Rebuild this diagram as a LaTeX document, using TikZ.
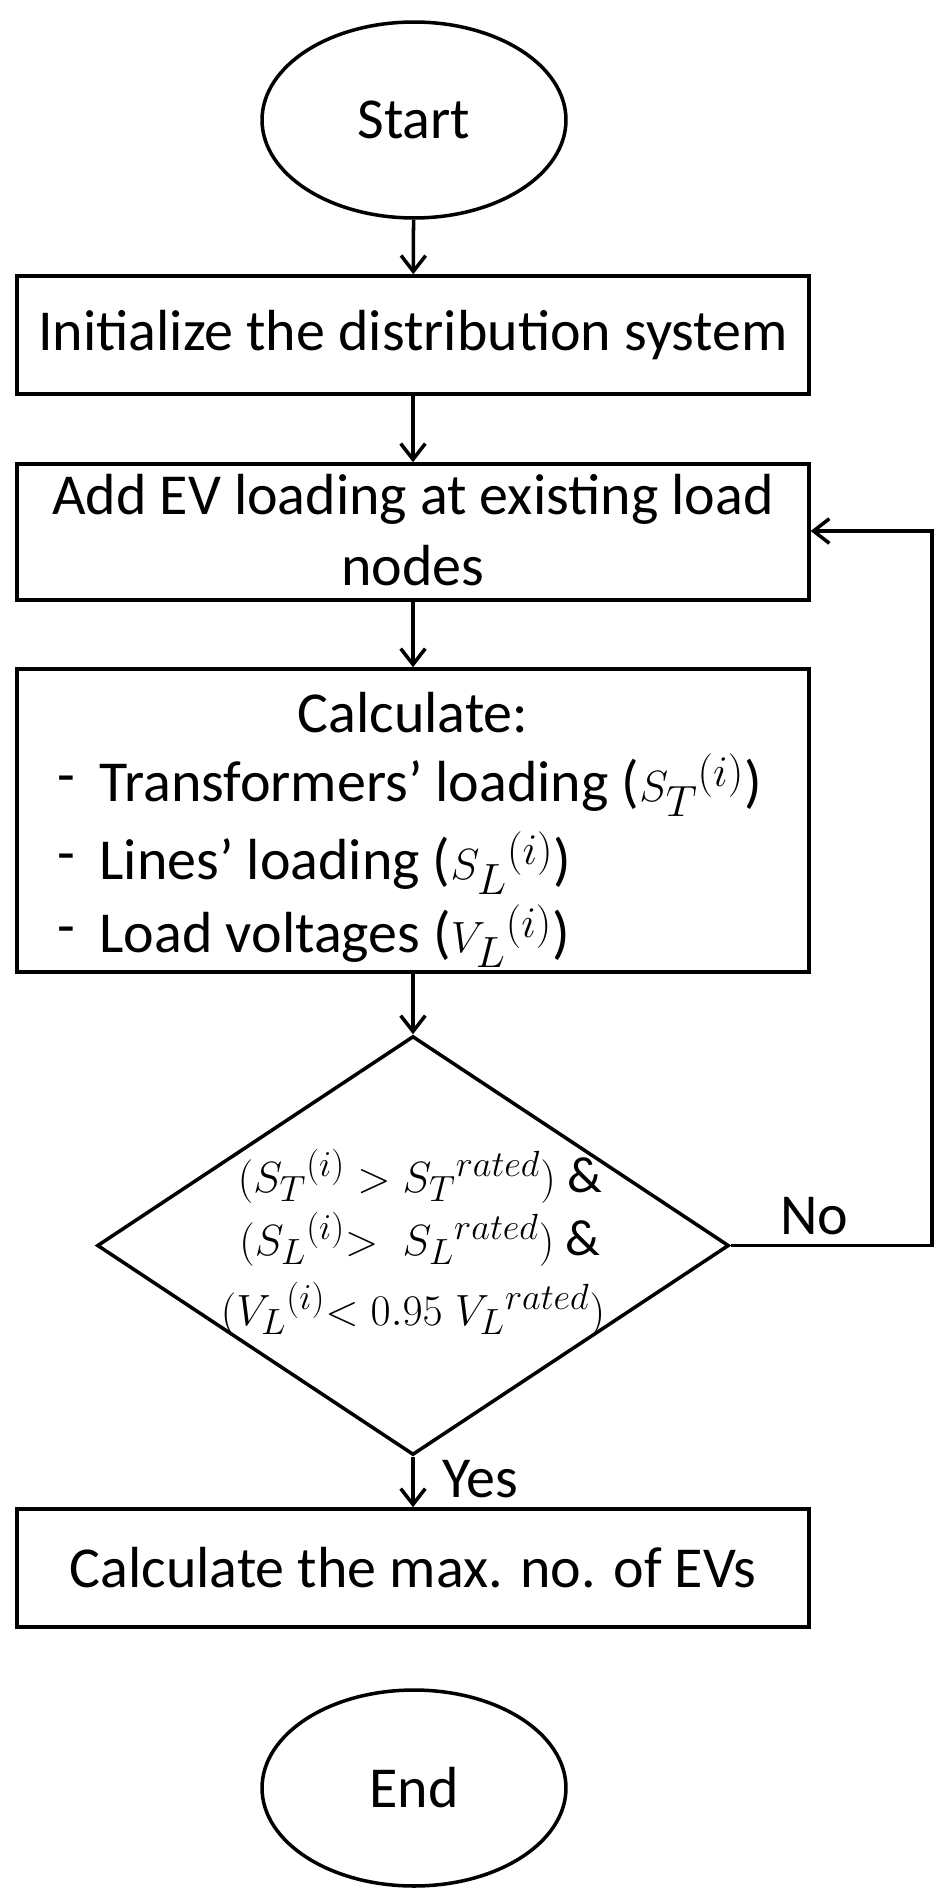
\documentclass[tikz,border=0pt]{standalone}
\usepackage{fontspec}
\setmainfont{Carlito}
\usetikzlibrary{arrows.meta,shapes.geometric}
\begin{document}
\begin{tikzpicture}[x=0.02cm,y=-0.02cm,
  line width=2pt,
  every node/.style={font=\fontsize{33}{40}\selectfont},
  box/.style={draw,minimum width=15.84cm,inner sep=0pt},
  term/.style={draw,ellipse,minimum width=6.08cm,minimum height=3.92cm},
  arr/.style={-{Straight Barb[length=9pt,width=14pt]}}]
\useasboundingbox (0,0) rectangle (947,1902);
\node[term] (start) at (414,120) {Start};
\node[box,minimum height=2.36cm] (init) at (413,335) {Initialize the distribution system};
\node[box,minimum height=2.72cm] (add) at (413,532) {};
\node at (413,499) {Add EV loading at existing load};
\node at (413,566) {nodes};
\node[box,minimum height=6.06cm] (calc) at (413,820.5) {};
\node at (413,713) {Calculate:};
\node[anchor=west] at (50,785) {-};
\node[anchor=west] at (50,863) {-};
\node[anchor=west] at (50,936) {-};
\node[anchor=west] at (92,785) {Transformers’ loading ($S_T{}^{(i)}$)};
\node[anchor=west] at (92,863) {Lines’ loading ($S_L{}^{(i)}$)};
\node[anchor=west] at (92,936) {Load voltages ($V_L{}^{(i)}$)};
\node[draw,diamond,minimum width=12.64cm,minimum height=8.38cm,inner sep=0pt] (dec) at (413,1245.5) {};
\begin{scope}[every node/.style={font=\fontsize{29}{34}\selectfont}]
\node at (420,1176) {$(S_T{}^{(i)} > S_T{}^{rated})$ \&};
\node at (420,1239) {$(S_L{}^{(i)}{>}\;\; S_L{}^{rated})$ \&};
\node at (413,1309) {$(V_L{}^{(i)}{<}\; 0.95\; V_L{}^{rated})$};
\end{scope}
\node[box,minimum height=2.36cm] (max) at (413,1568) {Calculate the max. no. of EVs};
\node[term] (end) at (414,1788) {End};
\draw[arr] (start) -- (init);
\draw[arr] (init) -- (add);
\draw[arr] (add) -- (calc);
\draw[arr] (calc.south) -- (dec.north);
\draw[arr] (dec.south) -- (max.north);
\node at (480,1479) {Yes};
\node at (814,1216) {No};
\coordinate (c1) at (932,1245.5);
\coordinate (c2) at (932,531);
\draw[arr] (dec.east) -- (c1) -- (c2) -- (add.east |- c2);
\end{tikzpicture}
\end{document}
